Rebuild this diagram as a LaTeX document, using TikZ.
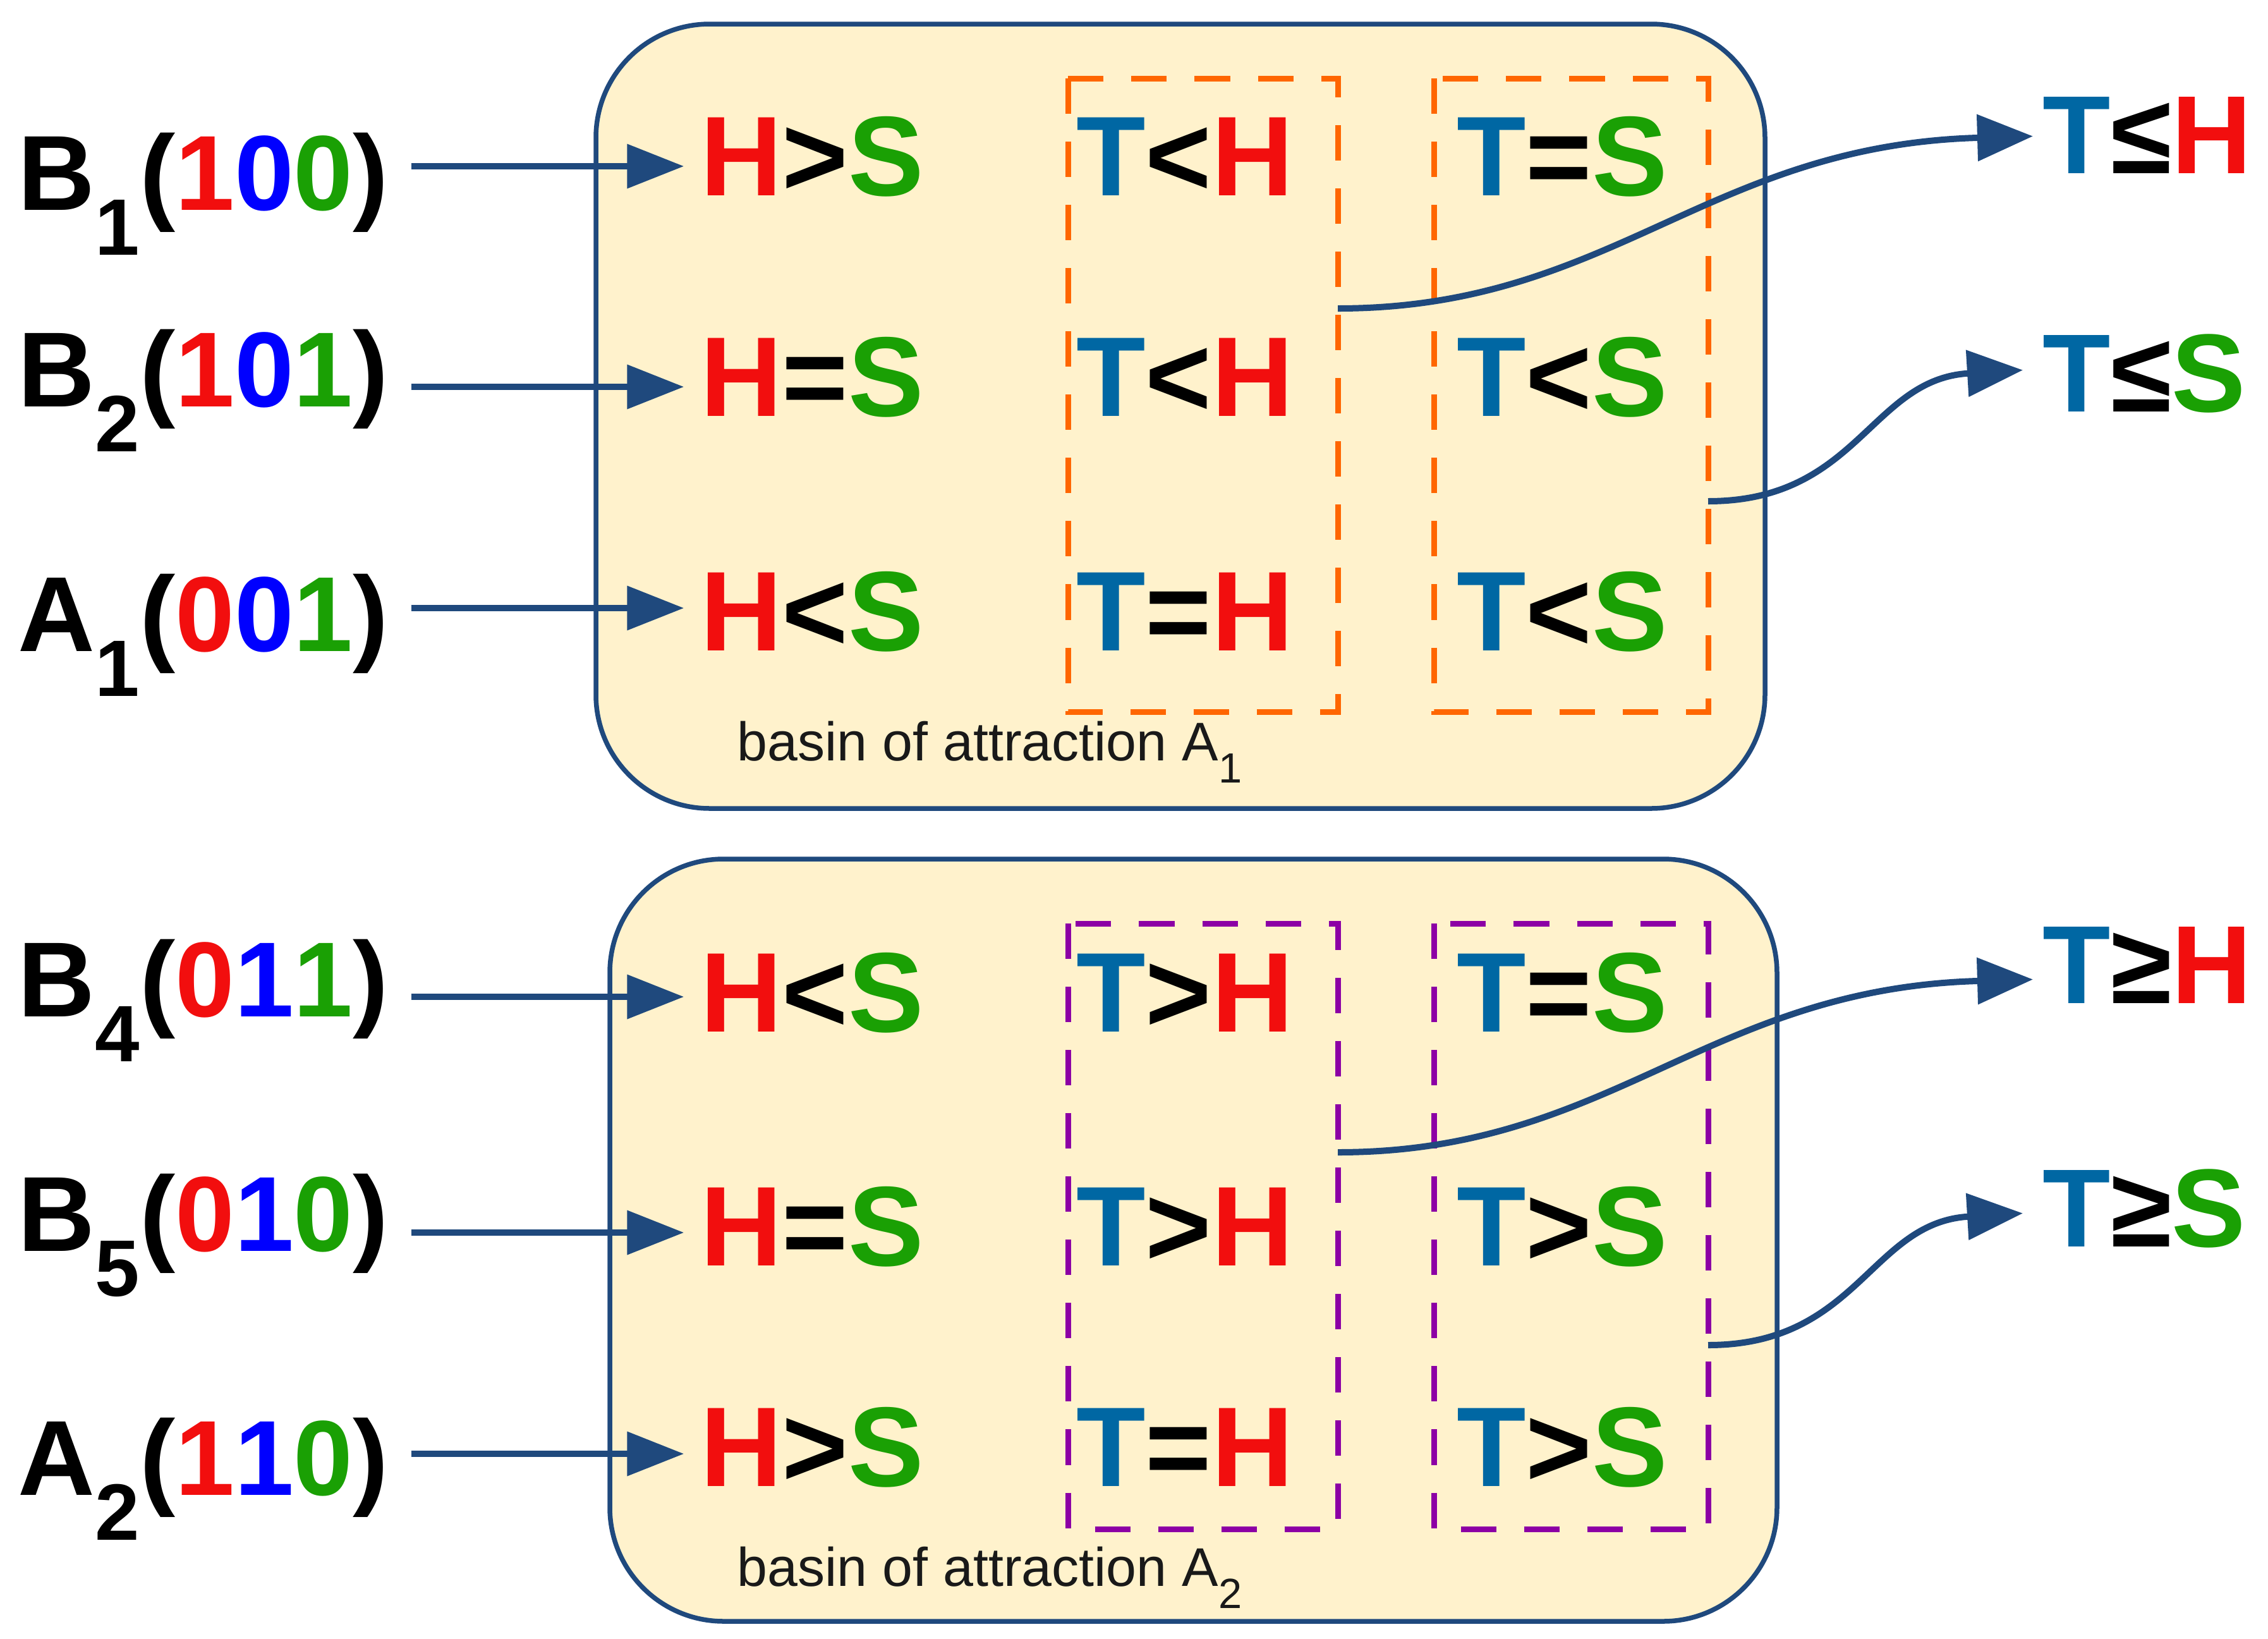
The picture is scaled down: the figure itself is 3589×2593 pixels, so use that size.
\documentclass[tikz,border=0pt]{standalone}
\usepackage{fontspec}
\setmainfont{Liberation Sans}
\usetikzlibrary{arrows.meta}
\definecolor{cR}{RGB}{242,14,14}
\definecolor{cG}{RGB}{26,160,4}
\definecolor{cT}{RGB}{0,103,163}
\definecolor{cB}{RGB}{0,0,255}
\definecolor{navy}{RGB}{31,73,125}
\definecolor{boxfill}{RGB}{255,242,204}
\definecolor{dorange}{RGB}{255,102,0}
\definecolor{dpurple}{RGB}{140,0,165}
\definecolor{basintext}{RGB}{25,25,25}
\newcommand{\xH}{\textcolor{cR}{H}}
\newcommand{\xS}{\textcolor{cG}{S}}
\newcommand{\xT}{\textcolor{cT}{T}}
\newcommand{\dR}[1]{\textcolor{cR}{#1}}
\newcommand{\dB}[1]{\textcolor{cB}{#1}}
\newcommand{\dG}[1]{\textcolor{cG}{#1}}
\newcommand{\lsub}[1]{\raisebox{-0.71cm}{\fontsize{36}{36}\selectfont #1}}
\newcommand{\bsub}[1]{\raisebox{-0.35cm}{\fontsize{19}{19}\selectfont #1}}
\begin{document}
\begin{tikzpicture}[x=0.01cm,y=-0.01cm,
 cell/.style={anchor=base, inner sep=0pt, font=\fontsize{51}{51}\selectfont\bfseries},
 lab/.style={anchor=base west, inner sep=0pt, font=\fontsize{48}{48}\selectfont\bfseries},
 res/.style={anchor=base west, inner sep=0pt, font=\fontsize{50}{50}\selectfont\bfseries},
 basin/.style={anchor=base west, inner sep=0pt, text=basintext, font=\fontsize{24.5}{24.5}\selectfont},
 stbox/.style={draw=navy, line width=0.075cm, fill=boxfill, rounded corners=1.8cm},
 dbox/.style={line width=0.09cm, dash pattern=on 0.56cm off 0.44cm},
 sarr/.style={draw=navy, line width=0.105cm, -{Triangle[length=0.9cm,width=0.68cm]}},
 carr/.style={draw=navy, line width=0.1cm, -{Triangle[length=0.88cm,width=0.72cm]}}]
\fill[white] (0,0) rectangle (3589,2593);
\useasboundingbox (0,0) rectangle (3589,2593);

% basins
\draw[stbox] (943,38) rectangle (2793,1279);
\draw[stbox] (965,1359) rectangle (2812,2565);

% dashed groups
\draw[dbox, draw=dorange] (1690,124) rectangle (2117,1126);
\draw[dbox, draw=dorange] (2269,124) rectangle (2703,1126);
\draw[dbox, draw=dpurple] (1690,1461) rectangle (2117,2419);
\draw[dbox, draw=dpurple] (2269,1461) rectangle (2703,2419);

% cells top
\node[cell] (c11) at (1285,309) {\xH>\xS};
\node[cell] (c12) at (1875,309) {\xT<\xH};
\node[cell] (c13) at (2472,309) {\xT=\xS};
\node[cell] (c21) at (1285,658) {\xH=\xS};
\node[cell] (c22) at (1875,658) {\xT<\xH};
\node[cell] (c23) at (2472,658) {\xT<\xS};
\node[cell] (c31) at (1285,1029) {\xH<\xS};
\node[cell] (c32) at (1875,1029) {\xT=\xH};
\node[cell] (c33) at (2472,1029) {\xT<\xS};
% cells bottom
\node[cell] (c41) at (1285,1632) {\xH<\xS};
\node[cell] (c42) at (1875,1632) {\xT>\xH};
\node[cell] (c43) at (2472,1632) {\xT=\xS};
\node[cell] (c51) at (1285,2002) {\xH=\xS};
\node[cell] (c52) at (1875,2002) {\xT>\xH};
\node[cell] (c53) at (2472,2002) {\xT>\xS};
\node[cell] (c61) at (1285,2351) {\xH>\xS};
\node[cell] (c62) at (1875,2351) {\xT=\xH};
\node[cell] (c63) at (2472,2351) {\xT>\xS};

% basin captions
\node[basin] (bA1) at (1166,1203) {basin of attraction A\bsub{1}};
\node[basin] (bA2) at (1166,2509) {basin of attraction A\bsub{2}};

% left labels
\node[lab] (lB1) at (28,332) {B\lsub{1}(\dR{1}\dB{0}\dG{0})};
\node[lab] (lB2) at (28,643) {B\lsub{2}(\dR{1}\dB{0}\dG{1})};
\node[lab] (lA1) at (28,1030) {A\lsub{1}(\dR{0}\dB{0}\dG{1})};
\node[lab] (lB4) at (28,1608) {B\lsub{4}(\dR{0}\dB{1}\dG{1})};
\node[lab] (lB5) at (28,1979) {B\lsub{5}(\dR{0}\dB{1}\dG{0})};
\node[lab] (lA2) at (28,2365) {A\lsub{2}(\dR{1}\dB{1}\dG{0})};

% right labels
\node[res] (rLH) at (3232,274) {\xT≤\xH};
\node[res] (rLS) at (3232,651) {\xT≤\xS};
\node[res] (rGH) at (3232,1587) {\xT≥\xH};
\node[res] (rGS) at (3232,1972) {\xT≥\xS};

% straight arrows
\draw[sarr] ([shift={(35,-69)}]lB1.base east) -- ([shift={(-25,-46)}]c11.base west);
\draw[sarr] ([shift={(35,-31)}]lB2.base east) -- ([shift={(-25,-46)}]c21.base west);
\draw[sarr] ([shift={(35,-68)}]lA1.base east) -- ([shift={(-25,-67)}]c31.base west);
\draw[sarr] ([shift={(35,-31)}]lB4.base east) -- ([shift={(-25,-55)}]c41.base west);
\draw[sarr] ([shift={(35,-29)}]lB5.base east) -- ([shift={(-25,-52)}]c51.base west);
\draw[sarr] ([shift={(35,-65)}]lA2.base east) -- ([shift={(-25,-51)}]c61.base west);

% curved arrows
\coordinate (s1) at (2117,488);
\coordinate (s2) at (2703,793);
\coordinate (s3) at (2117,1823);
\coordinate (s4) at (2703,2128);
\draw[carr] (s1) .. controls (2550,488) and (2700,230) .. ([shift={(-15,2)}]rLH.west);
\draw[carr] (s2) .. controls (2940,793) and (2960,600) .. ([shift={(-31,-5)}]rLS.west);
\draw[carr] (s3) .. controls (2550,1823) and (2700,1564) .. ([shift={(-15,23)}]rGH.west);
\draw[carr] (s4) .. controls (2940,2128) and (2960,1934) .. ([shift={(-31,8)}]rGS.west);
\end{tikzpicture}
\end{document}
